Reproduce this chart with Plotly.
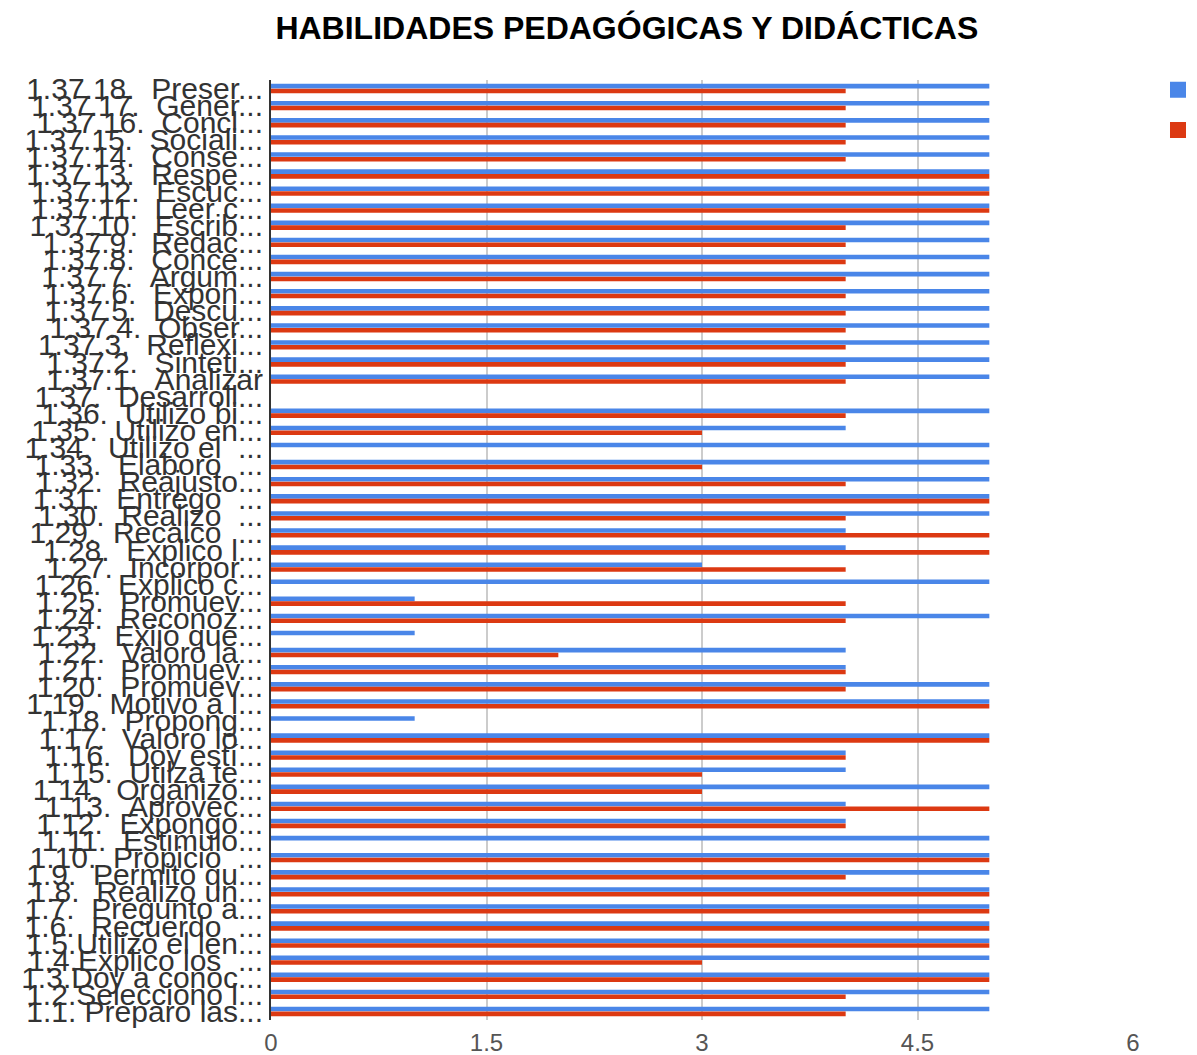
import plotly.graph_objects as go

title = "HABILIDADES PEDAGÓGICAS Y DIDÁCTICAS"

NB = "\u00a0"

# categories, top to bottom as in the chart
categories = [
    "1.37.18.  Preser...", "1.37.17.  Gener...", "1.37.16.  Concl...", "1.37.15.  Sociali...",
    "1.37.14.  Conse...", "1.37.13.  Respe...", "1.37.12.  Escuc...", "1.37.11.  Leer c...",
    "1.37.10.  Escrib...", "1.37.9.  Redac...", "1.37.8.  Conce...", "1.37.7.  Argum...",
    "1.37.6.  Expon...", "1.37.5.  Descu...", "1.37.4.  Obser...", "1.37.3.  Reflexi...",
    "1.37.2.  Sinteti...", "1.37.1.  Analizar", "1.37.  Desarroll...", "1.36.  Utilizo bi...",
    "1.35.  Utilizo en...", "1.34.  Utilizo el  ...", "1.33.  Elaboro  ...", "1.32.  Reajusto...",
    "1.31.  Entrego  ...", "1.30.  Realizo  ...", "1.29.  Recalco  ...", "1.28.  Explico l...",
    "1.27.  Incorpor...", "1.26.  Explico c...", "1.25.  Promuev...", "1.24.  Reconoz...",
    "1.23.  Exijo que...", "1.22.  Valoro la...", "1.21.  Promuev...", "1.20.  Promuev...",
    "1.19.  Motivo a l...", "1.18.  Propong...", "1.17.  Valoro lo...", "1.16.  Doy estí...",
    "1.15.  Utilza te...", "1.14.  Organizo...", "1.13.  Aprovec...", "1.12.  Expongo...",
    "1.11.  Estimulo...", "1.10.  Propicio  ...", "1.9.  Permito qu...", "1.8.  Realizo un...",
    "1.7.  Pregunto a...", "1.6.  Recuerdo  ...", "1.5.Utilizo el len...", "1.4.Explico los  ...",
    "1.3.Doy a conoc...", "1.2.Selecciono l...", "1.1. Preparo las...",
]

series_a_name = "Autoevaluación"
series_b_name = "Evaluación"

series_a = [
    5, 5, 5, 5, 5, 5, 5, 5, 5, 5, 5, 5, 5, 5, 5, 5, 5, 5, None, 5,
    4, 5, 5, 5, 5, 5, 4, 4, 3, 5, 1, 5, 1, 4, 4, 5, 5, 1, 5, 4,
    4, 5, 4, 4, 5, 5, 5, 5, 5, 5, 5, 5, 5, 5, 5,
]
series_b = [
    4, 4, 4, 4, 4, 5, 5, 5, 4, 4, 4, 4, 4, 4, 4, 4, 4, 4, None, 4,
    3, None, 3, 4, 5, 4, 5, 5, 4, None, 4, 4, None, 2, 4, 4, 5, None, 5, 4,
    3, 3, 5, 4, None, 5, 4, 5, 5, 5, 5, 3, 5, 4, 4,
]

x_ticks = [0, 1.5, 3, 4.5, 6]
x_tick_text = ["0", "1.5", "3", "4.5", "6"]

colors = ["#4a86e8", "#dc3912"]

labels = [c.replace(" ", NB) for c in categories]

fig = go.Figure()
for name, vals, col in [(series_a_name, series_a, colors[0]), (series_b_name, series_b, colors[1])]:
    fig.add_trace(go.Bar(y=labels, x=vals, orientation="h", name=name, showlegend=False,
                         legendgroup=name, marker=dict(color=col, line=dict(width=0))))
# legend proxies (larger square swatches)
for name, col in [(series_a_name, colors[0]), (series_b_name, colors[1])]:
    fig.add_trace(go.Scatter(x=[None], y=[None], mode="markers", name=name, legendgroup=name,
                             marker=dict(symbol="square", size=22, color=col), showlegend=True))

fig.update_layout(
    width=1197, height=1055,
    paper_bgcolor="white", plot_bgcolor="white",
    margin=dict(l=263, r=72, t=72, b=43, autoexpand=False),
    title=dict(text="<b>" + title + "</b>", x=0.517, xanchor="center", y=0.981, yanchor="middle",
               font=dict(family="Liberation Sans, Arial, sans-serif", size=32, color="#000")),
    barmode="group", bargap=0.44, bargroupgap=0.04,
    font=dict(family="Liberation Sans, Arial, sans-serif"),
    showlegend=True,
    legend=dict(x=1.029, xanchor="left", y=1.011, yanchor="top",
                font=dict(size=21, color="#222"), itemsizing="trace",
                bgcolor="rgba(0,0,0,0)"),
    xaxis=dict(range=[0, 6], tickmode="array", tickvals=x_ticks, ticktext=x_tick_text,
               showgrid=True, gridcolor="#cccccc", gridwidth=2, zeroline=False,
               showline=False, ticks="", tickfont=dict(size=24, color="#555"),
               ticklabelstandoff=6, fixedrange=True),
    yaxis=dict(categoryorder="array", categoryarray=labels, autorange="reversed",
               tickmode="array", tickvals=labels, ticktext=labels,
               showgrid=False, showline=True, linecolor="#333", linewidth=2,
               ticks="", tickfont=dict(size=30, color="#333"), ticklabelstandoff=0,
               fixedrange=True),
)

fig.write_html("out.html")
